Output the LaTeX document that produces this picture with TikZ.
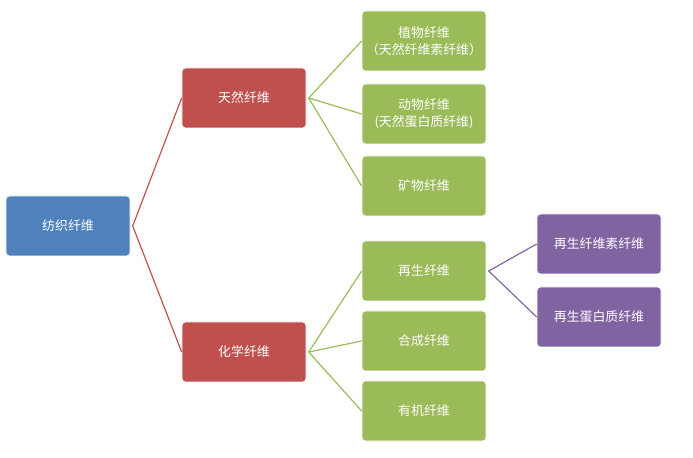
\documentclass[tikz,border=0pt]{standalone}
\usepackage{fontspec}
\setmainfont{Noto Sans CJK SC}
\definecolor{boxblue}{HTML}{4F81BD}
\definecolor{boxred}{HTML}{C0504D}
\definecolor{boxgreen}{HTML}{9BBB59}
\definecolor{boxpurple}{HTML}{8064A2}
\begin{document}
\begin{tikzpicture}[x=0.03cm, y=-0.03cm,
  fiber/.style = {rounded corners=3pt, draw=white, line width=0.6pt, minimum width=3.72cm, minimum height=1.8cm, text=white, font=\fontsize{11}{14}\selectfont, align=center},
  bluebox/.style = {fiber, fill=boxblue},
  redbox/.style = {fiber, fill=boxred},
  greenbox/.style = {fiber, fill=boxgreen},
  purplebox/.style = {fiber, fill=boxpurple}]
  \useasboundingbox (0,0) rectangle (693,458);
  \node[bluebox] (root) at (68,226) {纺织纤维};
  \node[redbox] (nat) at (244,98) {天然纤维};
  \node[redbox] (chem) at (244,352) {化学纤维};
  \node[greenbox] (plant) at (424,41) {植物纤维\\（天然纤维素纤维）};
  \node[greenbox] (animal) at (424,114) {动物纤维\\(天然蛋白质纤维)};
  \node[greenbox] (mineral) at (424,186) {矿物纤维};
  \node[greenbox] (regen) at (424,271) {再生纤维};
  \node[greenbox] (synth) at (424,341) {合成纤维};
  \node[greenbox] (organic) at (424,411) {有机纤维};
  \node[purplebox] (cell) at (599,244) {再生纤维素纤维};
  \node[purplebox] (prot) at (599,317) {再生蛋白质纤维};
  \draw[boxred, line width=1pt] (nat.west) -- ([xshift=2pt]root.east) -- (chem.west);
  \draw[boxgreen, line width=1pt] (plant.west) -- ([xshift=2pt]nat.east) -- (mineral.west);
  \draw[boxgreen, line width=1pt] ([xshift=2pt]nat.east) -- (animal.west);
  \draw[boxgreen, line width=1pt] (regen.west) -- ([xshift=2pt]chem.east) -- (organic.west);
  \draw[boxgreen, line width=1pt] ([xshift=2pt]chem.east) -- (synth.west);
  \draw[boxpurple, line width=1pt] (cell.west) -- ([xshift=2pt]regen.east) -- (prot.west);
\end{tikzpicture}
\end{document}
